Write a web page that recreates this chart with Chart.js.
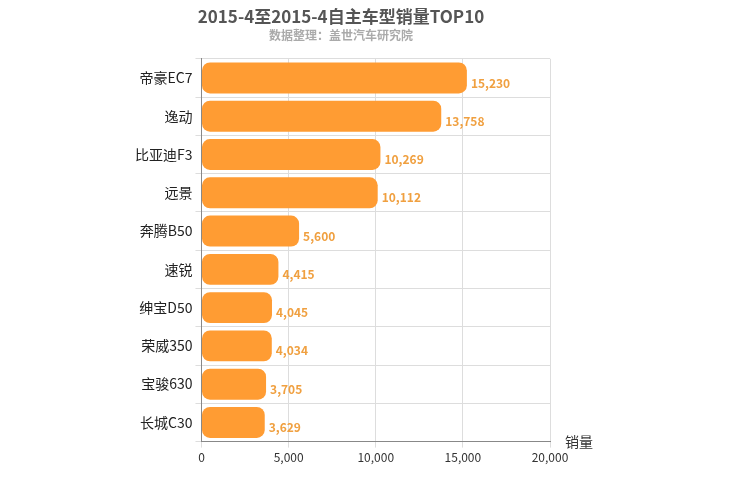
<!DOCTYPE html>
<html>
<head>
<meta charset="utf-8">
<script src="https://cdn.jsdelivr.net/npm/chart.js@4"></script>
<style>
body { margin: 0; background: #fff; }
#wrap { width: 750px; height: 500px; }
</style>
</head>
<body>
<div id="wrap"><canvas id="barChart"></canvas></div>
<script>
// 车型（y轴）
const models = ['帝豪EC7', '逸动', '比亚迪F3', '远景', '奔腾B50', '速锐', '绅宝D50', '荣威350', '宝骏630', '长城C30'];
// 销量
const sales = [15230, 13758, 10269, 10112, 5600, 4415, 4045, 4034, 3705, 3629];

const FONT = '"Noto Sans CJK SC", "Noto Sans", sans-serif';

// 柱子右边的数值 + 轴标题
const labelPlugin = {
    id: 'labels',
    afterDatasetsDraw(chart) {
        const c = chart.ctx;
        const meta = chart.getDatasetMeta(0);
        c.save();
        c.fillStyle = '#f0a040';
        c.font = 'bold 12px ' + FONT;
        c.textBaseline = 'middle';
        meta.data.forEach((bar, i) => {
            c.fillText(sales[i].toLocaleString('en-US'), bar.x + 4, bar.y + 5);
        });
        c.fillStyle = '#333';
        c.font = '14px ' + FONT;
        c.fillText('销量', 565, chart.chartArea.bottom);
        c.restore();
    }
};

new Chart(document.getElementById('barChart'), {
    type: 'bar',
    data: {
        labels: models,
        datasets: [{
            data: sales,
            backgroundColor: '#ff9c33',
            borderRadius: 8,
            borderSkipped: false,
            categoryPercentage: 0.85,
            barPercentage: 0.95
        }]
    },
    options: {
        indexAxis: 'y',
        responsive: true,
        maintainAspectRatio: false,
        animation: false,
        layout: { padding: { left: 132, right: 200, top: 0, bottom: 32 } },
        plugins: {
            legend: { display: false },
            tooltip: { enabled: false },
            title: {
                display: true,
                text: '2015-4至2015-4自主车型销量TOP10',
                color: '#555',
                font: { family: FONT, size: 17, weight: 'bold' },
                padding: { top: 6, bottom: 2 }
            },
            subtitle: {
                display: true,
                text: '数据整理：盖世汽车研究院',
                color: '#aaa',
                font: { family: FONT, size: 12, weight: 'bold' },
                padding: { bottom: 16 }
            }
        },
        scales: {
            x: {
                min: 0, max: 20000,
                ticks: { stepSize: 5000, color: '#333', font: { family: FONT, size: 12 },
                    callback: v => v.toLocaleString('en-US') },
                grid: { color: '#ddd', tickLength: 6 },
                border: { color: '#888' }
            },
            y: {
                ticks: { color: '#222', font: { family: FONT, size: 14 } },
                grid: { color: '#ddd', tickLength: 6 },
                border: { color: '#888' }
            }
        }
    },
    plugins: [labelPlugin]
});
</script>
</body>
</html>
